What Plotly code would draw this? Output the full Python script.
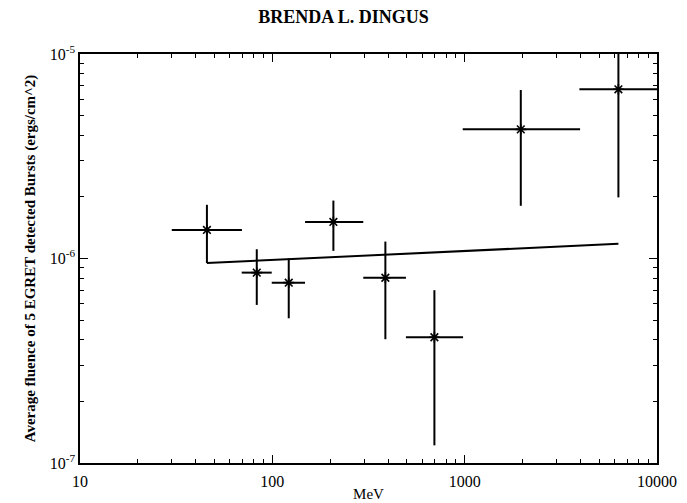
import plotly.graph_objects as go

# Data
energy_mev = [45.7, 83.0, 121.7, 207.7, 387.0, 696.0, 1958.0, 6300.0]
energy_lo = [30.0, 69.3, 99.3, 148.0, 297.0, 495.0, 977.0, 3950.0]
energy_hi = [69.5, 99.3, 147.9, 297.0, 495.0, 981.0, 3981.0, 10000.0]
fluence = [1.38e-6, 8.53e-7, 7.62e-7, 1.51e-6, 8.05e-7, 4.12e-7, 4.28e-6, 6.72e-6]
fluence_hi = [1.83e-6, 1.11e-6, 1.00e-6, 1.92e-6, 1.21e-6, 7.0e-7, 6.67e-6, 1.0e-5]
fluence_lo = [9.5e-7, 5.93e-7, 5.1e-7, 1.09e-6, 4.03e-7, 1.22e-7, 1.81e-6, 1.99e-6]

line_x = [45.7, 6300.0]
line_y = [9.5e-7, 1.18e-6]

x_ticks = [10, 100, 1000, 10000]
x_ticktext = ["10", "100", "1000", "10000"]
y_ticks = [1e-7, 1e-6, 1e-5]
y_ticktext = ["10<sup>-7</sup>", "10<sup>-6</sup>", "10<sup>-5</sup>"]
x_minor = [m * 10 ** d for d in (1, 2, 3) for m in range(2, 10)]
y_minor = [m * 10.0 ** d for d in (-7, -6) for m in range(2, 10)]

FONT = "Liberation Serif"

fig = go.Figure()
fig.add_trace(go.Scatter(
    x=energy_mev, y=fluence, mode="markers",
    marker=dict(symbol="asterisk-open", size=9, color="black",
                line=dict(color="black", width=1.6)),
    error_x=dict(type="data", symmetric=False,
                 array=[h - x for h, x in zip(energy_hi, energy_mev)],
                 arrayminus=[x - l for l, x in zip(energy_lo, energy_mev)],
                 color="black", thickness=2, width=0),
    error_y=dict(type="data", symmetric=False,
                 array=[h - y for h, y in zip(fluence_hi, fluence)],
                 arrayminus=[y - l for l, y in zip(fluence_lo, fluence)],
                 color="black", thickness=2, width=0),
    showlegend=False, cliponaxis=True,
))
fig.add_trace(go.Scatter(
    x=line_x, y=line_y, mode="lines",
    line=dict(color="black", width=2), showlegend=False,
))

axis_common = dict(
    showgrid=False, zeroline=False, showline=True, linecolor="black",
    linewidth=1.5, mirror="allticks", ticks="inside", ticklen=8,
    tickwidth=1.2, tickcolor="black", automargin=False,
    tickfont=dict(family=FONT, size=16, color="black"),
)

fig.update_xaxes(type="log", range=[1, 4], tickvals=x_ticks,
                 ticktext=x_ticktext, ticklabelstandoff=3,
                 minor=dict(tickvals=x_minor, ticks="inside", ticklen=4,
                            tickwidth=1, tickcolor="black", showgrid=False),
                 title=dict(text="MeV", font=dict(family=FONT, size=15, color="black"),
                            standoff=0),
                 **axis_common)
fig.update_yaxes(type="log", range=[-7, -5], tickvals=y_ticks,
                 ticktext=y_ticktext,
                 minor=dict(tickvals=y_minor, ticks="inside", ticklen=4,
                            tickwidth=1, tickcolor="black", showgrid=False),
                 title=dict(text="<b>Average fluence of 5 EGRET detected Bursts (ergs/cm^2)</b>",
                            font=dict(family=FONT, size=15, color="black"),
                            standoff=10),
                 **axis_common)

fig.update_layout(
    width=687, height=503,
    margin=dict(l=80, r=30, t=54, b=40),
    paper_bgcolor="white", plot_bgcolor="white",
    title=dict(text="<b>BRENDA L. DINGUS</b>", x=0.5, xanchor="center",
               y=0.966, yanchor="middle",
               font=dict(family=FONT, size=18, color="black")),
)

fig.write_html("out.html")
